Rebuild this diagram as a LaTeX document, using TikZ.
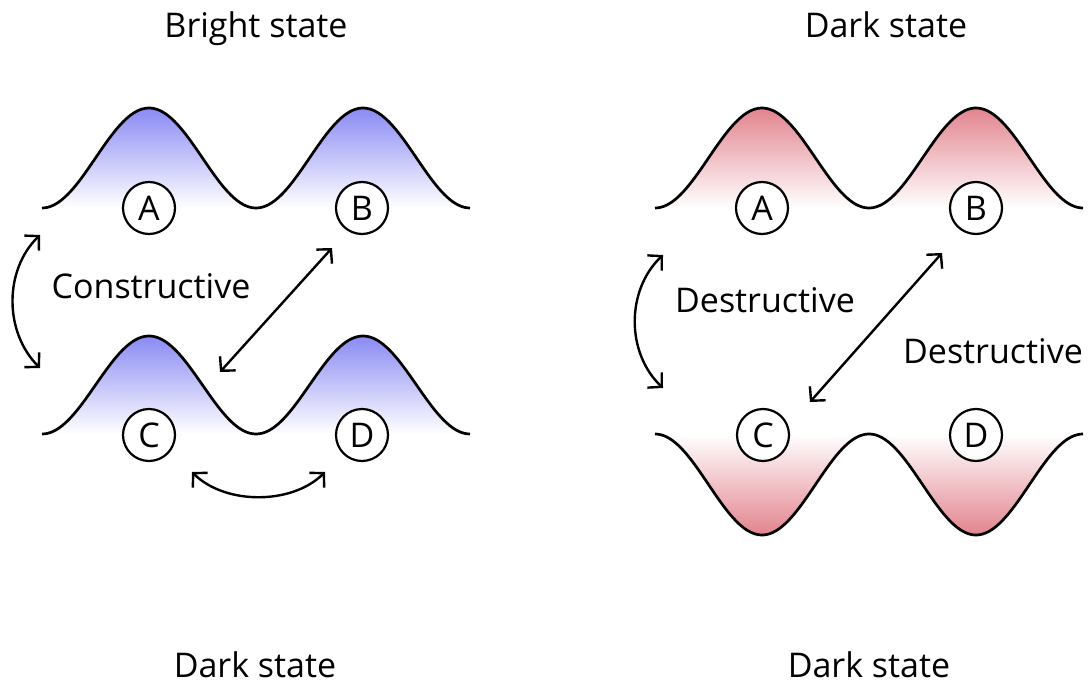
\documentclass[tikz,border=0pt]{standalone}
\usepackage{fontspec}
\setmainfont{Open Sans}
\usetikzlibrary{arrows.meta}
\definecolor{bluepk}{RGB}{138,138,244}
\definecolor{redpk}{RGB}{226,132,142}
\begin{document}
\begin{tikzpicture}[x=1pt,y=-1pt,
  wave/.style={line width=2.7pt, line join=round},
  site/.style={circle, draw, fill=white, line width=2.2pt, minimum size=52pt, inner sep=0pt, font=\fontsize{34}{34}\selectfont},
  lbl/.style={anchor=base, inner sep=0pt, font=\fontsize{34}{34}\selectfont},
  dbl/.style={line width=2.4pt, {Straight Barb[length=10pt,width=21pt]}-{Straight Barb[length=10pt,width=21pt]}}]
\useasboundingbox (0,0) rectangle (1090,685);

% ---- left panel: bright state ----
\shade[top color=bluepk, bottom color=white] plot[domain=42:470, samples=150] (\x,{208-50*(1-cos((\x-42)/214*360))}) -- cycle;
\draw[wave] plot[domain=42:470, samples=150] (\x,{208-50*(1-cos((\x-42)/214*360))});
\shade[top color=bluepk, bottom color=white] plot[domain=42:470, samples=150] (\x,{434-49*(1-cos((\x-42)/214*360))}) -- cycle;
\draw[wave] plot[domain=42:470, samples=150] (\x,{434-49*(1-cos((\x-42)/214*360))});

\node[site] (A1) at (149,208) {A};
\node[site] (B1) at (362,208) {B};
\node[site] (C1) at (149,435) {C};
\node[site] (D1) at (362,435) {D};

\node[lbl] (t1) at (256,38) {Bright state};
\node[lbl] (t2) at (255,677) {Dark state};
\node[lbl] (con) at (151,298) {Constructive};

\coordinate (la1) at (40,235);
\coordinate (la2) at (40,368);
\draw[dbl] (la2) .. controls (4,332) and (4,270) .. (la1);
\coordinate (da1) at (332,248);
\coordinate (da2) at (220,372);
\draw[dbl] (da1) -- (da2);
\coordinate (ba1) at (192,472);
\coordinate (ba2) at (325,472);
\draw[dbl] (ba1) .. controls (225,505) and (292,505) .. (ba2);

% ---- right panel: dark state ----
\shade[top color=redpk, bottom color=white] plot[domain=655:1083, samples=150] (\x,{208-50*(1-cos((\x-655)/214*360))}) -- cycle;
\draw[wave] plot[domain=655:1083, samples=150] (\x,{208-50*(1-cos((\x-655)/214*360))});
\shade[top color=white, bottom color=redpk] plot[domain=655:1083, samples=150] (\x,{434+50.5*(1-cos((\x-655)/214*360))}) -- cycle;
\draw[wave] plot[domain=655:1083, samples=150] (\x,{434+50.5*(1-cos((\x-655)/214*360))});

\node[site] (A2) at (762,208) {A};
\node[site] (B2) at (976,208) {B};
\node[site] (C2) at (763,435) {C};
\node[site] (D2) at (976,435) {D};

\node[lbl] (t3) at (886,38) {Dark state};
\node[lbl] (t4) at (869,677) {Dark state};
\node[lbl] (des1) at (765,312) {Destructive};
\node[lbl] (des2) at (993,363) {Destructive};

\coordinate (ra1) at (663,255);
\coordinate (ra2) at (663,388);
\draw[dbl] (ra2) .. controls (626,353) and (626,290) .. (ra1);
\coordinate (rd1) at (942,253);
\coordinate (rd2) at (810,402);
\draw[dbl] (rd1) -- (rd2);
\end{tikzpicture}
\end{document}
